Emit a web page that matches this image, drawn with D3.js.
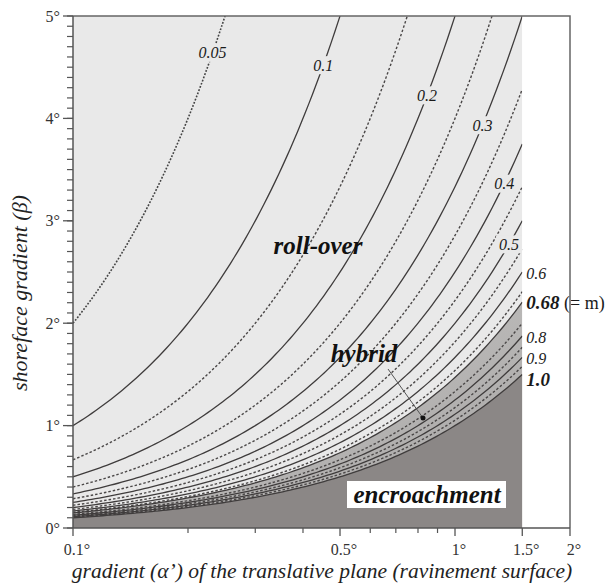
<!DOCTYPE html>
<html>
<head>
<meta charset="utf-8">
<script src="https://cdn.jsdelivr.net/npm/d3@7"></script>
<style>
  body { margin: 0; background: #fff; }
  text { font-family: "Liberation Serif", "DejaVu Serif", serif; }
</style>
</head>
<body>
<div id="vis"></div>
<script>
// contour levels (ratio alpha'/beta)
var dottedLevels = [0.05];
var solidLevels = [0.1, 0.2, 0.3, 0.4, 0.5, 0.6, 0.68, 0.8, 0.9, 1.0];
var dashedLevels = [0.15, 0.25, 0.35, 0.45, 0.55, 0.65, 0.75, 0.85, 0.95];

// labels placed on the curves (level, alpha where the label sits)
var innerLabels = [
    {level: 0.05, alpha: 0.232, text: "0.05"},
    {level: 0.1, alpha: 0.452, text: "0.1"},
    {level: 0.2, alpha: 0.845, text: "0.2"},
    {level: 0.3, alpha: 1.18, text: "0.3"},
    {level: 0.4, alpha: 1.345, text: "0.4"},
    {level: 0.5, alpha: 1.385, text: "0.5"}
];
var edgeLabels = [0.6, 0.68, 0.8, 0.9, 1.0];

var xMajor = [0.1, 0.5, 1, 1.5, 2];
var xMinor = [0.2, 0.3, 0.4, 0.6, 0.7, 0.8, 0.9];
var yMajor = [0, 1, 2, 3, 4, 5];

var alphaMin = 0.1, alphaMax = 1.5, betaMax = 5;
var mLevel = 0.68;

var width = 614, height = 583;
var svg = d3.select("#vis").append("svg")
    .attr("width", width)
    .attr("height", height);

var x = d3.scaleLog().domain([0.1, 2]).range([73, 570]);
var y = d3.scaleLinear().domain([0, 5]).range([528, 16]);

// sample the iso-line beta = alpha / level along the alpha axis
function curve(level) {
    var pts = [];
    var n = 120;
    for (var i = 0; i <= n; i++) {
        var la = Math.log10(alphaMin) + (Math.log10(alphaMax) - Math.log10(alphaMin)) * i / n;
        var a = Math.pow(10, la);
        pts.push([a, a / level]);
    }
    return pts;
}

var line = d3.line()
    .x(function (d) { return x(d[0]); })
    .y(function (d) { return y(d[1]); });

svg.append("clipPath").attr("id", "plot")
    .append("rect")
    .attr("x", x(alphaMin)).attr("y", y(betaMax))
    .attr("width", x(alphaMax) - x(alphaMin))
    .attr("height", y(0) - y(betaMax));

var g = svg.append("g").attr("clip-path", "url(#plot)");

// roll-over background
g.append("rect")
    .attr("x", x(alphaMin)).attr("y", y(betaMax))
    .attr("width", x(alphaMax) - x(alphaMin))
    .attr("height", y(0) - y(betaMax))
    .attr("fill", "#e9e9e9");

var grad = svg.append("defs").append("linearGradient")
    .attr("id", "hyb").attr("x1", 0).attr("y1", 0).attr("x2", 1).attr("y2", 1);
grad.append("stop").attr("offset", "0%").attr("stop-color", "#cfcecd");
grad.append("stop").attr("offset", "100%").attr("stop-color", "#a3a1a0");

function below(level) {
    var pts = curve(level);
    pts.push([alphaMax, 0]);
    pts.push([alphaMin, 0]);
    return line(pts) + "Z";
}

g.append("path").attr("d", below(mLevel)).attr("fill", "url(#hyb)");
g.append("path").attr("d", below(1.0)).attr("fill", "#8b8786");

// contours
g.selectAll(".dot").data(dottedLevels).enter().append("path")
    .attr("d", function (d) { return line(curve(d)); })
    .attr("fill", "none").attr("stroke", "#444")
    .attr("stroke-width", 1.6).attr("stroke-dasharray", "1.8,1.6");

g.selectAll(".dash").data(dashedLevels).enter().append("path")
    .attr("d", function (d) { return line(curve(d)); })
    .attr("fill", "none").attr("stroke", "#4a4747")
    .attr("stroke-width", 1.4).attr("stroke-dasharray", "2.5,2");

g.selectAll(".solid").data(solidLevels).enter().append("path")
    .attr("d", function (d) { return line(curve(d)); })
    .attr("fill", "none").attr("stroke", "#3f3c3c")
    .attr("stroke-width", 1.3);

// labels on the curves, with a gap cut in the line
var il = g.selectAll(".il").data(innerLabels).enter().append("g")
    .attr("transform", function (d) {
        return "translate(" + x(d.alpha) + "," + y(d.alpha / d.level) + ")";
    });
il.append("rect")
    .attr("x", function (d) { return -d.text.length * 4 - 1; })
    .attr("y", -9)
    .attr("width", function (d) { return d.text.length * 8 + 2; })
    .attr("height", 18)
    .attr("fill", "#e9e9e9");
il.append("text")
    .attr("text-anchor", "middle")
    .attr("dy", "0.35em")
    .attr("font-size", 16)
    .attr("font-style", "italic")
    .attr("fill", "#1a1a1a")
    .text(function (d) { return d.text; });

// labels at the right end of the curves
var el = svg.selectAll(".el").data(edgeLabels).enter().append("text")
    .attr("x", x(alphaMax) + 4)
    .attr("y", function (d) { return y(alphaMax / d) + (d === 1.0 ? 6 : 1); })
    .attr("dy", "0.35em")
    .attr("font-style", "italic")
    .attr("fill", "#1a1a1a");
el.append("tspan")
    .attr("font-size", function (d) { return (d === mLevel || d === 1.0) ? 19 : 16; })
    .attr("font-weight", function (d) { return (d === mLevel || d === 1.0) ? "bold" : "normal"; })
    .text(function (d) { return d === 1.0 ? "1.0" : String(d); });
el.filter(function (d) { return d === mLevel; }).append("tspan")
    .attr("font-style", "normal")
    .attr("font-size", 18)
    .text(" (= m)");

// region names
svg.append("text").attr("x", 318).attr("y", 254)
    .attr("text-anchor", "middle").attr("font-size", 25)
    .attr("font-weight", "bold").attr("font-style", "italic")
    .attr("fill", "#111").text("roll-over");

svg.append("line")
    .attr("x1", 388).attr("y1", 369).attr("x2", 423).attr("y2", 418)
    .attr("stroke", "#555").attr("stroke-width", 1);
svg.append("circle").attr("cx", 423).attr("cy", 418).attr("r", 2.5).attr("fill", "#111");

svg.append("text").attr("x", 364).attr("y", 362)
    .attr("text-anchor", "middle").attr("font-size", 25)
    .attr("font-weight", "bold").attr("font-style", "italic")
    .attr("fill", "#111").text("hybrid");

svg.append("rect").attr("x", 347).attr("y", 481)
    .attr("width", 159).attr("height", 27).attr("fill", "#fff");
svg.append("text").attr("x", 427).attr("y", 503)
    .attr("text-anchor", "middle").attr("font-size", 25)
    .attr("font-weight", "bold").attr("font-style", "italic")
    .attr("fill", "#111").text("encroachment");

// frame
svg.append("path")
    .attr("d", "M" + x(0.1) + "," + y(5) + "H" + x(2) + "V" + y(0))
    .attr("fill", "none").attr("stroke", "#666").attr("stroke-width", 1.5);

// axes
var xAxis = svg.append("g").attr("transform", "translate(0," + y(0) + ")");
xAxis.append("line").attr("x1", x(0.1)).attr("x2", x(2))
    .attr("stroke", "#555").attr("stroke-width", 1.5);
xAxis.selectAll(".mj").data(xMajor).enter().append("line")
    .attr("x1", x).attr("x2", x).attr("y1", 0).attr("y2", 8)
    .attr("stroke", "#555").attr("stroke-width", 1.3);
xAxis.selectAll(".mn").data(xMinor).enter().append("line")
    .attr("x1", x).attr("x2", x).attr("y1", 0).attr("y2", 5)
    .attr("stroke", "#555").attr("stroke-width", 1.2);
xAxis.selectAll(".lb").data(xMajor).enter().append("text")
    .attr("x", function (d) { return x(d) + 4; })
    .attr("y", 27)
    .attr("text-anchor", "middle")
    .attr("font-size", 16)
    .attr("fill", "#333")
    .text(function (d) { return d + "°"; });

var yMinor = d3.range(0, 51).map(function (i) { return i / 10; });
var yAxis = svg.append("g").attr("transform", "translate(" + x(0.1) + ",0)");
yAxis.append("line").attr("y1", y(0)).attr("y2", y(5))
    .attr("stroke", "#555").attr("stroke-width", 1.5);
yAxis.selectAll(".mn").data(yMinor).enter().append("line")
    .attr("y1", y).attr("y2", y).attr("x1", 0).attr("x2", -6)
    .attr("stroke", "#555").attr("stroke-width", 1.2);
yAxis.selectAll(".mj").data(yMajor).enter().append("line")
    .attr("y1", y).attr("y2", y).attr("x1", 0).attr("x2", -10)
    .attr("stroke", "#555").attr("stroke-width", 1.3);
yAxis.selectAll(".lb").data(yMajor).enter().append("text")
    .attr("x", -13)
    .attr("y", function (d) { return y(d); })
    .attr("dy", "0.35em")
    .attr("text-anchor", "end")
    .attr("font-size", 16)
    .attr("fill", "#333")
    .text(function (d) { return d + "°"; });

// axis titles
svg.append("text")
    .attr("x", 322).attr("y", 578)
    .attr("text-anchor", "middle")
    .attr("font-size", 21.5).attr("font-style", "italic")
    .attr("fill", "#222")
    .text("gradient (α’) of the translative plane (ravinement surface)");

svg.append("text")
    .attr("transform", "translate(27,293) rotate(-90)")
    .attr("text-anchor", "middle")
    .attr("font-size", 22).attr("font-style", "italic")
    .attr("fill", "#222")
    .text("shoreface gradient (β)");
</script>
</body>
</html>
